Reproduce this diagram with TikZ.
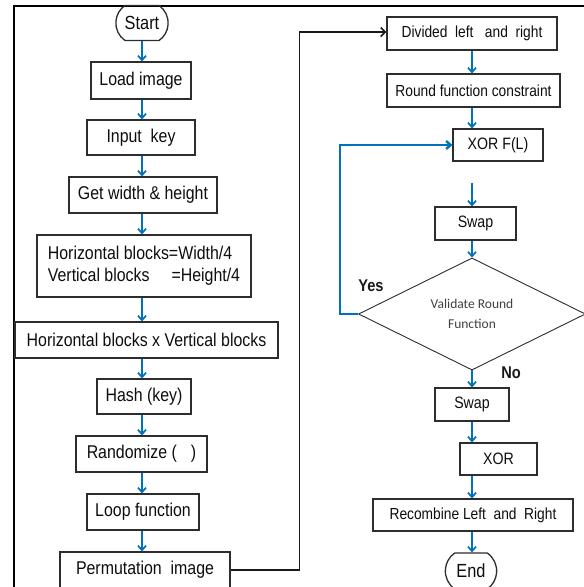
\documentclass[tikz,border=0pt]{standalone}
\usepackage{fontspec}
\setmainfont{Liberation Sans}[FakeStretch=0.86]
\newfontfamily\carlito{Carlito}
\usepackage{tikz}
\usetikzlibrary{arrows.meta,positioning,shapes.geometric,shapes.misc}

\definecolor{flowblue}{RGB}{0,114,188}
\definecolor{boxline}{RGB}{45,45,45}

\begin{document}
\begin{tikzpicture}[
    x=1pt, y=-1pt,
    box/.style={rectangle, draw=boxline, line width=1.1pt, minimum height=36pt, inner sep=2pt,
        font=\fontsize{18.5}{22}\selectfont, text=black!95},
    term/.style={rounded rectangle, rounded rectangle arc length=110, draw=boxline, line width=1.3pt,
        minimum height=35pt, font=\fontsize{19}{22}\selectfont, text=black!95},
    decision/.style={diamond, draw=boxline, line width=0.9pt, minimum width=227pt, minimum height=102pt,
        inner sep=0pt, align=center, font=\carlito\fontsize{13.5}{20}\selectfont, text=black!75},
    arrow/.style={-{Straight Barb[length=4.5pt,width=8pt]}, line width=1.7pt, flowblue},
    link/.style={-{Straight Barb[length=4.5pt,width=9pt]}, line width=1.7pt, black!90},
    lbl/.style={font=\bfseries\fontsize{17}{20}\selectfont, text=black!90}
]
\useasboundingbox (0,0) rectangle (584,587);

% Frame
\draw[line width=2pt] (14,600) -- (14,6) -- (600,6);

% Left column
\node[term, minimum width=59pt] (start) at (142,23) {Start};
\node[box, minimum width=100pt, minimum height=37pt] (load) at (141,80.5) {Load image};
\node[box, minimum width=108pt, minimum height=35pt] (input) at (141,137.5) {Input\ \ key};
\node[box, minimum width=148pt] (getwh) at (143,195) {Get width \& height};
\node[box, minimum width=214pt, minimum height=62pt, align=left] (blocks) at (144,266)
    {Horizontal blocks=Width/4\\Vertical blocks\hspace{22pt}=Height/4};
\node[box, minimum width=263pt] (product) at (146.5,340) {Horizontal blocks x Vertical blocks};
\node[box, minimum width=94pt, minimum height=35pt] (hash) at (144,396.5) {Hash (key)};
\node[box, minimum width=131pt] (random) at (141.5,454) {Randomize (\hspace{14pt})};
\node[box, minimum width=112pt] (loop) at (143,512) {Loop function};
\node[box, minimum width=170pt] (perm) at (145,570) {Permutation\ \ image};

% Right column
\node[box, minimum width=170pt, minimum height=33pt, font=\fontsize{16}{19}\selectfont] (divided) at (472,33.5)
    {Divided\ \ left\ \ \ and\ \ right};
\node[box, minimum width=173pt, minimum height=33pt, font=\fontsize{16}{19}\selectfont] (round) at (473.5,90.5)
    {Round function constraint};
\node[box, minimum width=90pt, minimum height=32pt, font=\fontsize{16.5}{19}\selectfont] (xorfl) at (498,145) {XOR F(L)};
\node[box, minimum width=81pt, minimum height=33pt, font=\fontsize{16.5}{19}\selectfont] (swap) at (475.5,223.5) {Swap};
\node[decision] (valid) at (472,314) {Validate Round\\Function};
\node[box, minimum width=74pt, minimum height=33pt, font=\fontsize{16.5}{19}\selectfont] (swapb) at (472,404.5) {Swap};
\node[box, minimum width=77pt, minimum height=32pt, font=\fontsize{16.5}{19}\selectfont] (xor) at (498.5,459) {XOR};
\node[box, minimum width=200pt, minimum height=32pt, font=\fontsize{16}{19}\selectfont] (recomb) at (473,515)
    {Recombine Left\ \ and\ \ Right};
\node[term, minimum width=58pt, minimum height=36pt] (end) at (471,571) {End};

% Labels
\node[lbl] (yes) at (371,286) {Yes};
\node[lbl] (no) at (511,373) {No};

% Arrows, left column
\draw[arrow] (start.south -| 142,0) -- (load.north -| 142,0);
\draw[arrow] (load.south -| 142,0) -- (input.north -| 142,0);
\draw[arrow] (input.south -| 142,0) -- (getwh.north -| 142,0);
\draw[arrow] (getwh.south -| 142,0) -- (blocks.north -| 142,0);
\draw[arrow] (blocks.south -| 142,0) -- (product.north -| 142,0);
\draw[arrow] (product.south -| 142,0) -- (hash.north -| 142,0);
\draw[arrow] (hash.south -| 142,0) -- (random.north -| 142,0);
\draw[arrow] (random.south -| 142,0) -- (loop.north -| 142,0);
\draw[arrow] (loop.south -| 142,0) -- (perm.north -| 142,0);

% Permutation image to right column
\draw[link] (perm.east) -- ++(69,0) |- (divided.west |- 0,32);

% Arrows, right column
\draw[arrow] (divided.south -| valid.north) -- (round.north -| valid.north);
\draw[arrow] (round.south -| valid.north) -- (xorfl.north -| valid.north);
\draw[arrow, shorten <=21pt] (xorfl.south -| valid.north) -- (swap.north -| valid.north);
\draw[arrow] (swap.south -| valid.north) -- (valid.north);
\draw[arrow] (valid.south) -- (swapb.north -| valid.south);
\draw[arrow] (swapb.south -| valid.south) -- (xor.north -| valid.south);
\draw[arrow] (xor.south -| valid.south) -- (recomb.north -| valid.south);
\draw[arrow] (recomb.south -| valid.south) -- (end.north -| valid.south);

% Yes loop
\draw[arrow, line width=2.4pt] (valid.west) -- ++(-18,0) |- (xorfl.west);

\end{tikzpicture}
\end{document}
